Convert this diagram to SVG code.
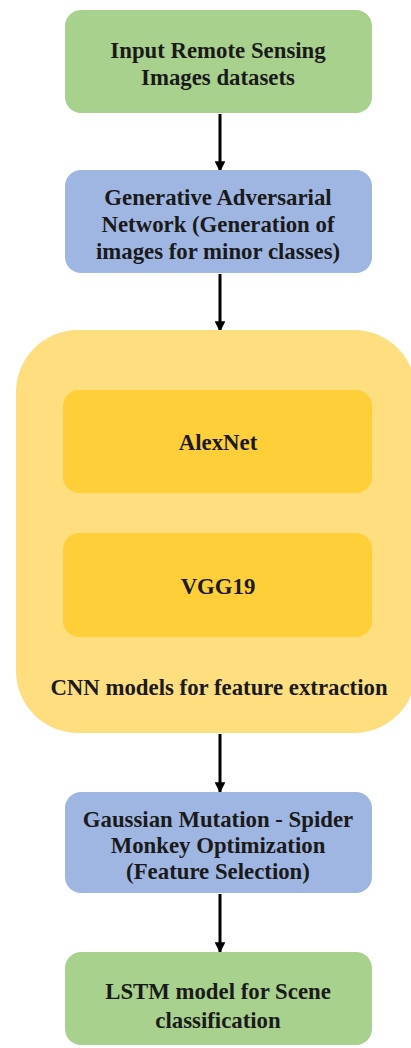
<svg xmlns="http://www.w3.org/2000/svg" width="411" height="1048" viewBox="0 0 411 1048">
<defs>
<style>
.t{font-family:'Liberation Serif','DejaVu Serif',serif;font-weight:700;font-size:22.8px;fill:#1a1a1a;text-anchor:middle}
.g{fill:#A9D18E}
.b{fill:#9FB6E2}
.conn{stroke:#000;stroke-width:3;fill:none;marker-end:url(#ah)}
</style>
<marker id="ah" viewBox="0 0 10 10" refX="9" refY="5" markerWidth="3.6" markerHeight="3.6" markerUnits="strokeWidth" orient="auto">
<path d="M0,0 L10,5 L0,10 z" fill="#000"/>
</marker>
</defs>
<rect width="411" height="1048" fill="#fff"/>
<g id="connectors">
<line class="conn" x1="220" y1="114" x2="220" y2="171"/>
<line class="conn" x1="220" y1="274" x2="220" y2="331"/>
<line class="conn" x1="220" y1="734" x2="220" y2="792"/>
<line class="conn" x1="220" y1="894" x2="220" y2="952"/>
</g>
<g id="input">
<rect class="g" x="65" y="10" width="307" height="103" rx="16"/>
<text class="t" x="218" y="58">Input Remote Sensing</text>
<text class="t" x="218" y="85">Images datasets</text>
</g>
<g id="gan">
<rect class="b" x="65" y="170" width="307" height="103" rx="16"/>
<text class="t" x="218" y="205">Generative Adversarial</text>
<text class="t" x="218" y="232">Network (Generation of</text>
<text class="t" x="218" y="259">images for minor classes)</text>
</g>
<g id="cnn">
<rect x="16" y="330" width="400" height="403" rx="62" fill="#FFDE80"/>
<text class="t" x="219" y="695">CNN models for feature extraction</text>
</g>
<g id="alexnet">
<rect x="63" y="390" width="309" height="103" rx="16" fill="#FFCF3A"/>
<text class="t" x="218" y="450">AlexNet</text>
</g>
<g id="vgg19">
<rect x="63" y="533" width="309" height="104" rx="16" fill="#FFCF3A"/>
<text class="t" x="218" y="594">VGG19</text>
</g>
<g id="gmsmo">
<rect class="b" x="65" y="792" width="307" height="101" rx="16"/>
<text class="t" x="218" y="827">Gaussian Mutation - Spider</text>
<text class="t" x="218" y="853">Monkey Optimization</text>
<text class="t" x="218" y="879">(Feature Selection)</text>
</g>
<g id="lstm">
<rect class="g" x="65" y="952" width="307" height="93" rx="16"/>
<text class="t" x="218" y="999">LSTM model for Scene</text>
<text class="t" x="218" y="1028">classification</text>
</g>
</svg>
